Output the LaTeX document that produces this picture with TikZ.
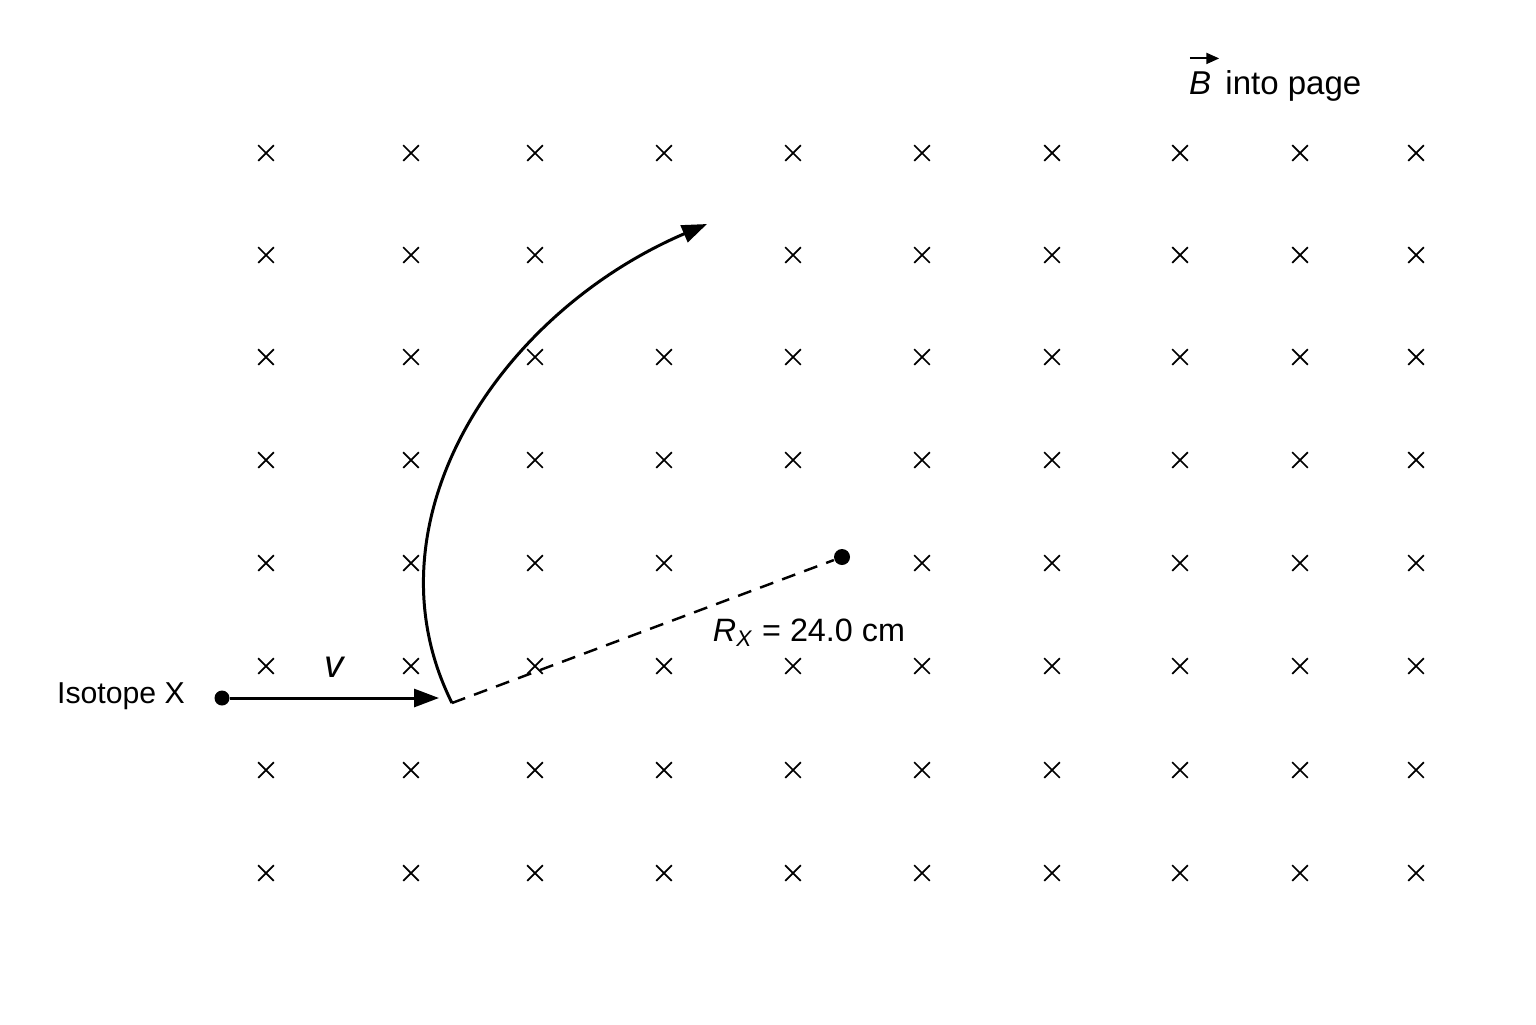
\documentclass[tikz,border=0pt]{standalone}
\usepackage{fontspec}
\setmainfont{Liberation Sans}
\usepackage{tikz}
\usetikzlibrary{arrows.meta}

\begin{document}
\begin{tikzpicture}[
    cross/.style={line width=0.5pt, black},
    track/.style={line width=0.85pt, -{Triangle[length=2.5mm, width=1.8mm]}},
    radius line/.style={line width=0.7pt, dash pattern=on 1.4mm off 0.95mm},
    particle/.style={circle, fill=black, inner sep=0pt, minimum size=1.5mm},
    label/.style={font=\fontsize{8.6}{10}\selectfont, inner sep=1pt},
    biglabel/.style={label, font=\fontsize{9.4}{11}\selectfont}
]
    \useasboundingbox[fill=white] (0,0) rectangle (15.36,-10.24);

    % Field B into page
    \foreach \x [count=\i] in {2.66,4.11,5.35,6.64,7.93,9.22,10.52,11.80,13.00,14.16}
      \foreach \y [count=\j] in {1.53,2.55,3.57,4.60,5.63,6.66,7.70,8.73} {
        \ifnum\i\j=42\relax\else\ifnum\i\j=55\relax\else
          \draw[cross] (\x,-\y) +(-0.078,-0.078) -- +(0.078,0.078)
                                 +(-0.078,0.078) -- +(0.078,-0.078);
        \fi\fi
      }
    \node[biglabel] (fieldB) at (12.00,-0.83) {\itshape B};
    \node[biglabel, anchor=base west, xshift=0.6mm] (field) at (fieldB.base east) {into page};
    \draw[line width=0.6pt, -{Triangle[length=1.3mm, width=1.1mm]}]
        ([xshift=0.5mm, yshift=0.9mm]fieldB.north west) -- ([xshift=0.4mm, yshift=0.9mm]fieldB.north east);

    % Incoming isotope
    \node[label] (name) at (1.21,-6.96) {Isotope X};
    \node[particle] (src) at (2.22,-6.98) {};
    \coordinate (entry) at (4.52,-7.03);
    \draw[track] (src) -- (4.39,-6.98)
        node[midway, above=0.16cm, label, font=\fontsize{11}{12}\selectfont] {\itshape v};

    % Curved path in field
    \coordinate (exit) at (7.07,-2.24);
    \draw[track] (entry) .. controls (3.62,-5.23) and (4.97,-3.14) .. (exit);

    % Radius to centre of curvature
    \node[particle, minimum size=1.6mm] (center) at (8.42,-5.57) {};
    \draw[radius line] (entry) -- (center);
    \node[label, font=\fontsize{9.2}{11}\selectfont] (radius) at (8.09,-6.33)
        {{\itshape R}\textsubscript{\itshape X} = 24.0 cm};

\end{tikzpicture}
\end{document}
